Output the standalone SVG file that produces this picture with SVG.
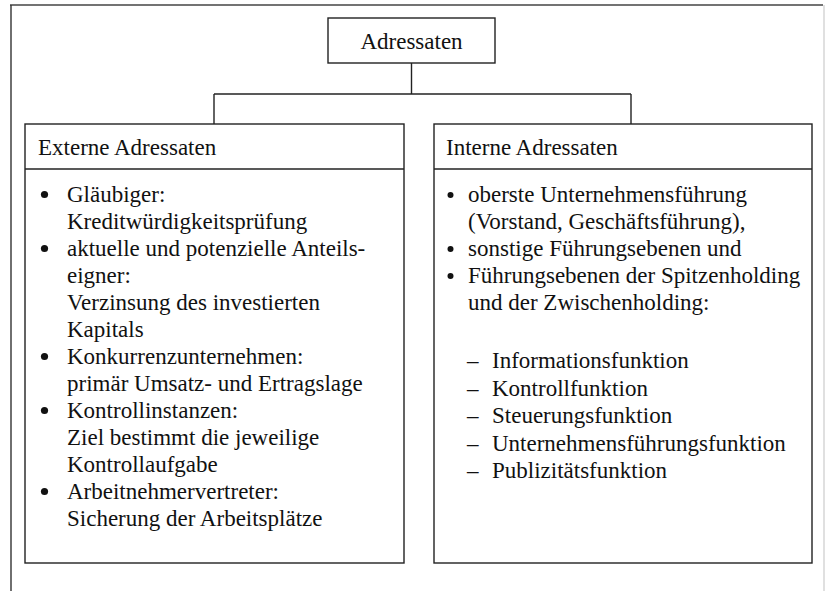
<svg xmlns="http://www.w3.org/2000/svg" width="827" height="591" viewBox="0 0 827 591">
<style>
text{font-family:"Liberation Serif","Times New Roman",serif;font-size:23px;fill:#111}
.box{fill:#fff;stroke:#222;stroke-width:1.4}
.ln{stroke:#222;stroke-width:1.4;fill:none}
.b{fill:#111}
</style>
<rect width="827" height="591" fill="#fff"/>
<g id="frame">
<line x1="10" y1="5" x2="823" y2="5" stroke="#444" stroke-width="1.3"/>
<line x1="11" y1="5" x2="11" y2="591" stroke="#333" stroke-width="1.4"/>
<line x1="824" y1="5" x2="824" y2="591" stroke="#ccc" stroke-width="1.2"/>
</g>
<g id="connectors">
<line class="ln" x1="411.5" y1="63" x2="411.5" y2="94"/>
<line class="ln" x1="214" y1="94" x2="631" y2="94"/>
<line class="ln" x1="214" y1="94" x2="214" y2="124"/>
<line class="ln" x1="631" y1="94" x2="631" y2="124"/>
</g>
<g id="root">
<rect class="box" x="328" y="18" width="167" height="45"/>
<text x="411.5" y="49" text-anchor="middle">Adressaten</text>
</g>
<g id="extern">
<rect class="box" x="25" y="124" width="379" height="439"/>
<line class="ln" x1="25" y1="169" x2="404" y2="169"/>
<text x="38" y="155">Externe Adressaten</text>
<circle class="b" cx="44.5" cy="194.5" r="3.6"/>
<circle class="b" cx="44.5" cy="248.5" r="3.6"/>
<circle class="b" cx="44.5" cy="356.5" r="3.6"/>
<circle class="b" cx="44.5" cy="410.5" r="3.6"/>
<circle class="b" cx="44.5" cy="491.5" r="3.6"/>
<text x="67">
<tspan x="67" y="202">Gläubiger:</tspan>
<tspan x="67" y="229">Kreditwürdigkeitsprüfung</tspan>
<tspan x="67" y="256">aktuelle und potenzielle Anteils-</tspan>
<tspan x="67" y="283">eigner:</tspan>
<tspan x="67" y="310">Verzinsung des investierten</tspan>
<tspan x="67" y="337">Kapitals</tspan>
<tspan x="67" y="364">Konkurrenzunternehmen:</tspan>
<tspan x="67" y="391">primär Umsatz- und Ertragslage</tspan>
<tspan x="67" y="418">Kontrollinstanzen:</tspan>
<tspan x="67" y="445">Ziel bestimmt die jeweilige</tspan>
<tspan x="67" y="472">Kontrollaufgabe</tspan>
<tspan x="67" y="499">Arbeitnehmervertreter:</tspan>
<tspan x="67" y="526">Sicherung der Arbeitsplätze</tspan>
</text>
</g>
<g id="intern">
<rect class="box" x="434" y="124" width="378" height="439"/>
<line class="ln" x1="434" y1="169" x2="812" y2="169"/>
<text x="446" y="155">Interne Adressaten</text>
<circle class="b" cx="450.5" cy="195" r="3"/>
<circle class="b" cx="450.5" cy="249" r="3"/>
<circle class="b" cx="450.5" cy="276" r="3"/>
<text x="468">
<tspan x="468" y="202">oberste Unternehmensführung</tspan>
<tspan x="468" y="229">(Vorstand, Geschäftsführung),</tspan>
<tspan x="468" y="256">sonstige Führungsebenen und</tspan>
<tspan x="468" y="283">Führungsebenen der Spitzenholding</tspan>
<tspan x="468" y="310">und der Zwischenholding:</tspan>
</text>
<text x="467">
<tspan x="467" y="368">–</tspan>
<tspan x="467" y="395.5">–</tspan>
<tspan x="467" y="423">–</tspan>
<tspan x="467" y="450.5">–</tspan>
<tspan x="467" y="478">–</tspan>
</text>
<text x="492">
<tspan x="492" y="368">Informationsfunktion</tspan>
<tspan x="492" y="395.5">Kontrollfunktion</tspan>
<tspan x="492" y="423">Steuerungsfunktion</tspan>
<tspan x="492" y="450.5">Unternehmensführungsfunktion</tspan>
<tspan x="492" y="478">Publizitätsfunktion</tspan>
</text>
</g>
</svg>
